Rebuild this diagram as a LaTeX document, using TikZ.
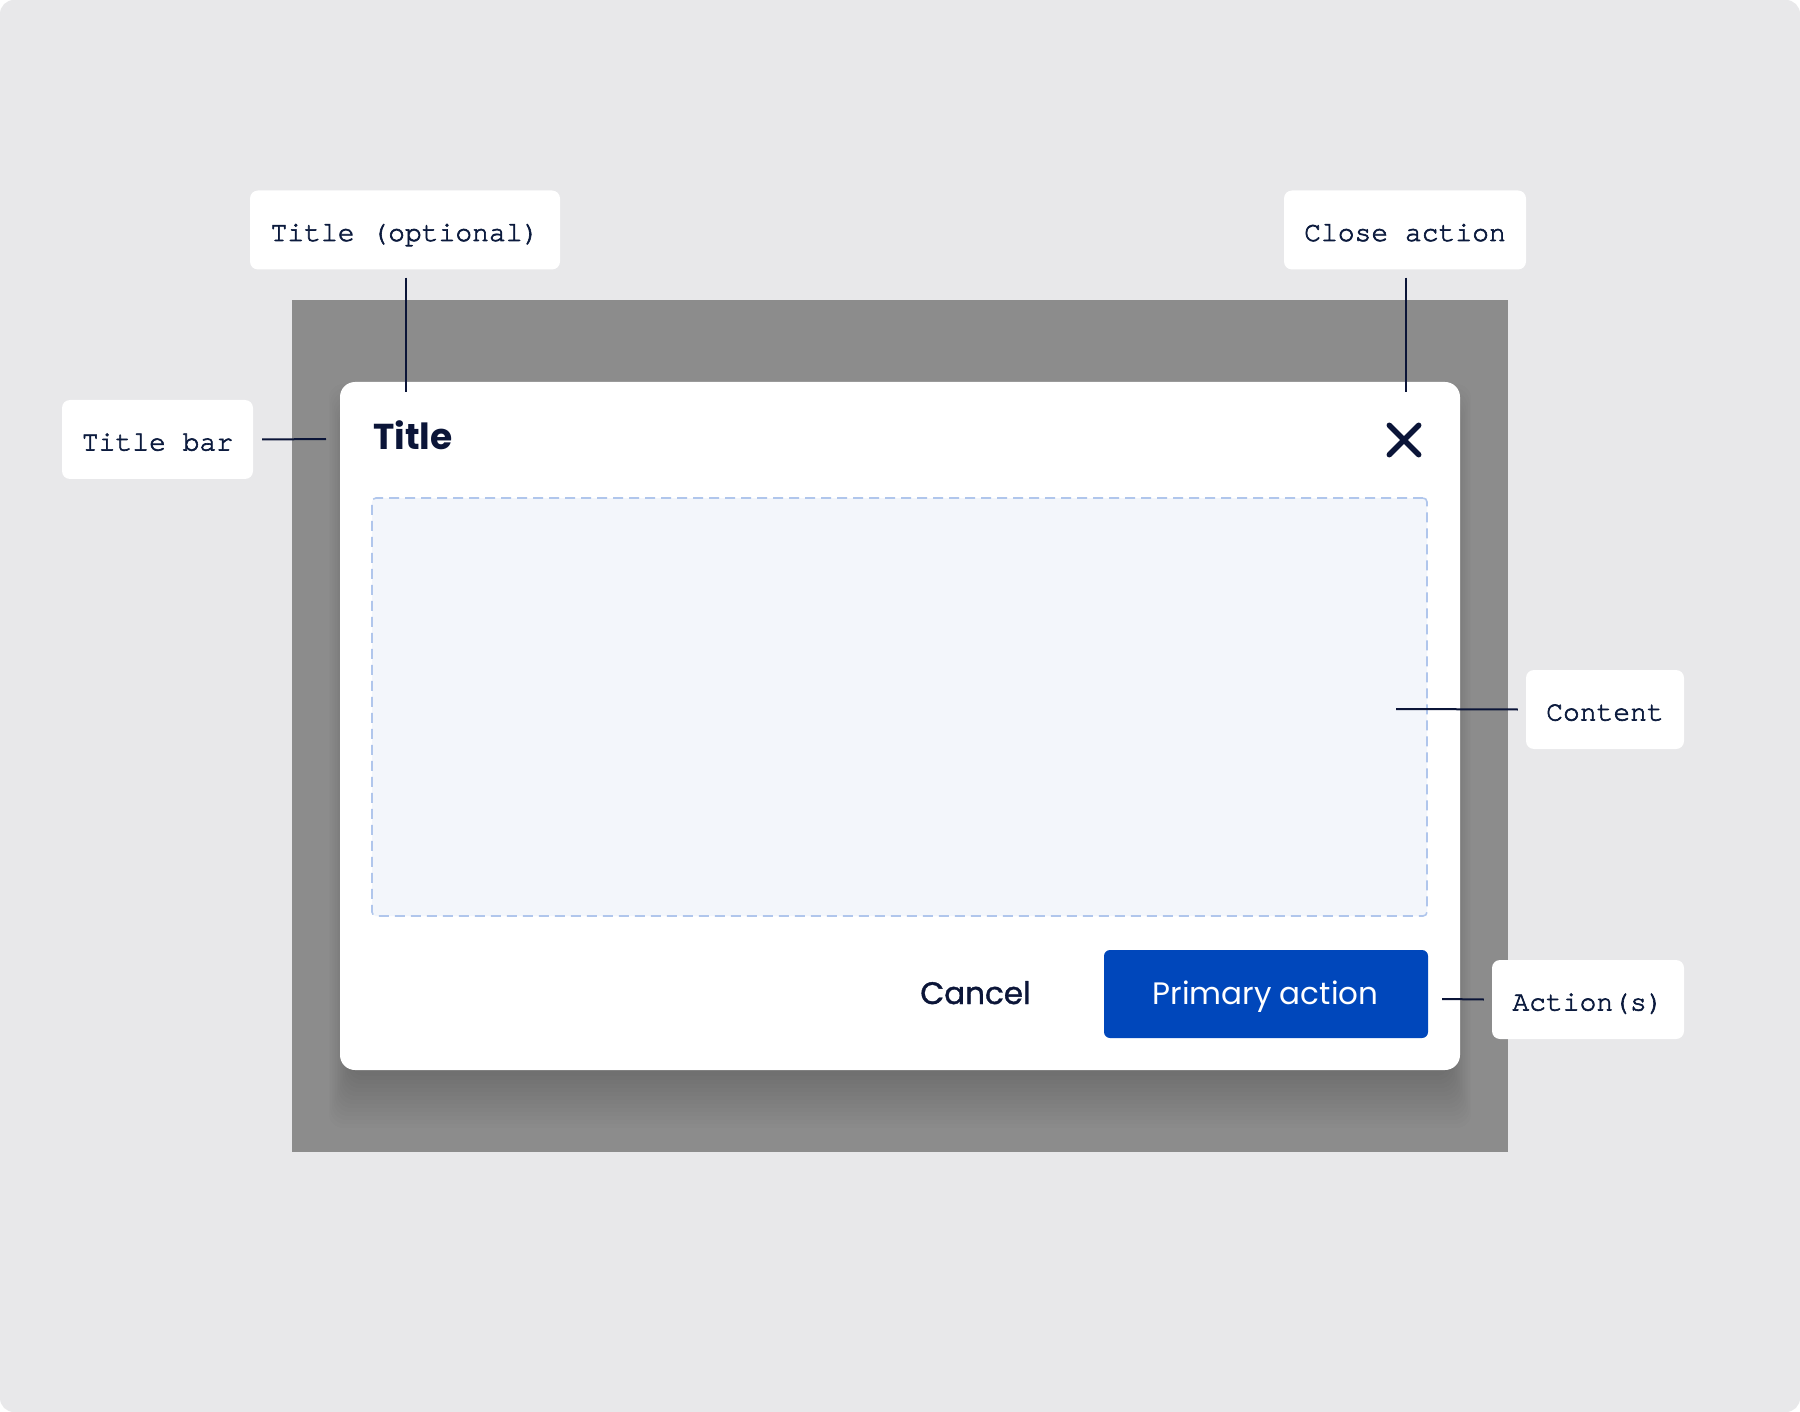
\documentclass[tikz,border=0pt]{standalone}
\usepackage{fontspec}
\setmainfont{Poppins}
\newfontfamily\monof{texgyrecursor-regular.otf}[FakeBold=2.2]
\newfontfamily\medf{Poppins}[FakeBold=1.2]
\definecolor{bgc}{HTML}{E8E8EA}
\definecolor{ovgray}{HTML}{8C8C8C}
\definecolor{navy}{HTML}{0B1538}
\definecolor{lblnavy}{HTML}{0B1A3D}
\definecolor{contentfill}{HTML}{F3F6FB}
\definecolor{contentdash}{HTML}{B0C6EC}
\definecolor{btnblue}{HTML}{0047BB}
\tikzset{
  lbl/.style={fill=white, rounded corners=8pt, inner sep=0pt, text=lblnavy,
    font=\monof\fontsize{28}{32}\selectfont, minimum height=79pt,
    text height=22pt, text depth=0pt},
  conn/.style={draw=navy, line width=2pt},
}
\begin{document}
\begin{tikzpicture}[x=1pt,y=-1pt]
\useasboundingbox (0,0) rectangle (1800,1412);
\fill[white] (0,0) rectangle (1800,1412);
\fill[bgc, rounded corners=14pt] (0,0) rectangle (1800,1412);
% dimmed backdrop
\fill[ovgray] (292,300) rectangle (1508,1152);
% shadow
\foreach \e in {-24,-20,...,28} {
  \fill[black, opacity=0.012, rounded corners=15pt]
    (340-0.4*\e,382+30-\e) rectangle (1460+0.4*\e,1070+30+\e);
}
% dialog
\node[fill=white, rounded corners=15pt, minimum width=1120pt, minimum height=688pt, inner sep=0pt] (dialog) at (900,726) {};
% title
\node[anchor=base west, inner sep=0pt, text=navy, font=\bfseries\fontsize{36}{40}\selectfont] (title) at (373,449.5) {Title};
% close X
\node[minimum size=29pt, inner sep=0pt] (closex) at (1404,440) {};
\draw[navy, line width=5.5pt, line cap=round] (closex.north west) -- (closex.south east);
\draw[navy, line width=5.5pt, line cap=round] (closex.north east) -- (closex.south west);
% content
\node[fill=contentfill, draw=contentdash, line width=1.6pt, dash pattern=on 10pt off 6pt, rounded corners=4pt,
  minimum width=1055pt, minimum height=418pt, inner sep=0pt] (content) at (899.5,707) {};
% buttons
\node[fill=btnblue, rounded corners=6pt, minimum width=324pt, minimum height=88pt, inner sep=0pt] (primary) at (1266,994) {};
\node[anchor=base, text=white, font=\fontsize{31}{34}\selectfont, inner sep=0pt] (primarytext) at (1265.5,1004) {Primary action};
\node[anchor=base, text=navy, font=\medf\fontsize{31}{34}\selectfont, inner sep=0pt] (cancel) at (975.5,1004) {Cancel};
% labels
\node[lbl, minimum width=310pt] (ltitle) at (405,230) {Title (optional)};
\node[lbl, minimum width=242pt] (lclose) at (1405,230) {Close action};
\node[lbl, minimum width=191pt] (lbar) at (157.5,439.5) {Title bar};
\node[lbl, minimum width=158pt] (lcontent) at (1605,709.5) {Content};
\node[lbl, minimum width=192pt] (lactions) at (1588,999.5) {Action(s)};
% connector ends
\coordinate (etitle) at (406,392);
\coordinate (eclose) at (1406,392);
\coordinate (ebar) at (326,439);
\coordinate (econtent) at (1396,709);
\coordinate (eactions) at (1442,999);
\draw[conn] (ltitle.south) ++(1,8) -- (etitle);
\draw[conn] (lclose.south) ++(1,8) -- (eclose);
\draw[conn] (lbar.east) ++(9,0) -- (ebar);
\draw[conn] (lcontent.west) ++(-8,0) -- (econtent);
\draw[conn] (lactions.west) ++(-8,0) -- (eactions);
\end{tikzpicture}
\end{document}
